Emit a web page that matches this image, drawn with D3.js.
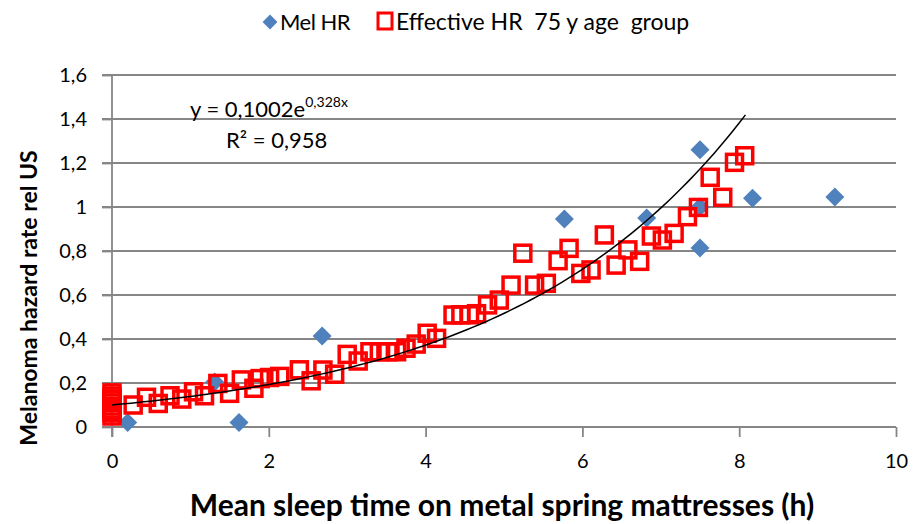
<!DOCTYPE html>
<html>
<head>
<meta charset="utf-8">
<script src="https://cdn.jsdelivr.net/npm/d3@7"></script>
<style>
  body { margin: 0; background: #fff; }
  svg { font-family: Lato, "Open Sans", sans-serif; }
</style>
</head>
<body>
<div id="chart"></div>
<script>
// Mel HR (blue diamonds)
var melX = [0.2, 1.31, 1.62, 2.68, 5.77, 6.82, 7.5, 7.5, 7.5, 8.17, 9.22]
var melY = [0.02, 0.205, 0.02, 0.414, 0.945, 0.95, 1.26, 1.0, 0.814, 1.04, 1.045]

// Effective HR 75 y age group (red squares)
var effX = [0, 0, 0, 0, 0, 0, 0, 0,
  0.27, 0.44, 0.59, 0.74, 0.89, 1.04, 1.18, 1.35, 1.5, 1.65, 1.81, 1.89, 2.01, 2.14,
  2.39, 2.54, 2.69, 2.84, 3.0, 3.14, 3.29, 3.41, 3.52, 3.63, 3.75, 3.88, 4.02, 4.14,
  4.35, 4.45, 4.56, 4.65, 4.79, 4.94, 5.09, 5.24, 5.39, 5.54, 5.69, 5.83, 5.98, 6.11,
  6.28, 6.43, 6.58, 6.73, 6.88, 7.02, 7.17, 7.34, 7.48, 7.63, 7.79, 7.94, 8.07]
var effY = [0.05, 0.065, 0.08, 0.095, 0.11, 0.125, 0.14, 0.155,
  0.1, 0.135, 0.107, 0.142, 0.127, 0.16, 0.142, 0.198, 0.153, 0.214, 0.176, 0.22, 0.225, 0.23,
  0.26, 0.21, 0.259, 0.24, 0.33, 0.3, 0.342, 0.342, 0.342, 0.342, 0.358, 0.377, 0.426, 0.403,
  0.509, 0.51, 0.51, 0.515, 0.555, 0.577, 0.645, 0.79, 0.645, 0.653, 0.756, 0.812, 0.698, 0.714,
  0.873, 0.736, 0.805, 0.753, 0.868, 0.85, 0.88, 0.956, 0.998, 1.135, 1.044, 1.203, 1.233]

// exponential trendline y = a * e^(b x)
var trendA = 0.1002
var trendB = 0.328
var trendRange = [0, 8.08]

var xTicks = [0, 2, 4, 6, 8, 10]
var yTicks = [0, 0.2, 0.4, 0.6, 0.8, 1, 1.2, 1.4, 1.6]

var width = 913
var height = 524

var svg = d3.select("#chart")
  .append("svg")
  .attr("width", width)
  .attr("height", height)

var x = d3.scaleLinear().domain([0, 10]).range([112, 896])
var y = d3.scaleLinear().domain([0, 1.6]).range([427, 75])

var comma = function(v) { return String(+v.toFixed(2)).replace(".", ",") }

// gridlines
svg.append("g")
  .selectAll("line")
  .data(yTicks)
  .enter().append("line")
    .attr("x1", 102)
    .attr("x2", x(10))
    .attr("y1", d => y(d))
    .attr("y2", d => y(d))
    .attr("stroke", "#868686")
    .attr("stroke-width", 1.8)

// y axis
var yAxis = svg.append("g")
  .attr("transform", "translate(" + x(0) + ",0)")
  .call(d3.axisLeft(y).tickValues(yTicks).tickFormat(comma).tickSize(10).tickPadding(15))
yAxis.select(".domain").remove()
yAxis.append("line")
  .attr("x1", 0).attr("x2", 0)
  .attr("y1", y(1.6)).attr("y2", y(0) + 10)
  .attr("stroke", "#868686").attr("stroke-width", 1.8)

// x axis
var xAxis = svg.append("g")
  .attr("transform", "translate(0," + y(0) + ")")
  .call(d3.axisBottom(x).tickValues(xTicks).tickFormat(comma).tickSize(10).tickPadding(17))
xAxis.select(".domain").attr("stroke", "#868686").attr("stroke-width", 1.8)
  .attr("d", "M" + x(0) + ",0H" + x(10))

svg.selectAll(".tick line").attr("stroke", "#868686").attr("stroke-width", 1.8)
svg.selectAll(".tick text")
  .attr("fill", "#000")
  .style("font-size", "20px")
  .style("font-family", "Lato, sans-serif")

// blue diamonds
svg.append("g")
  .selectAll("path")
  .data(melX)
  .enter().append("path")
    .attr("d", d3.symbol().type(d3.symbolSquare).size(180))
    .attr("transform", (d, i) => "translate(" + x(d) + "," + y(melY[i]) + ") rotate(45)")
    .attr("fill", "#4f81bd")

// red squares
svg.append("g")
  .selectAll("rect")
  .data(effX)
  .enter().append("rect")
    .attr("x", d => x(d) - 8)
    .attr("y", (d, i) => y(effY[i]) - 8)
    .attr("width", 16)
    .attr("height", 16)
    .attr("fill", "none")
    .attr("stroke", "#ff0000")
    .attr("stroke-width", 3.5)

// trendline
var trendPts = d3.range(0, 101).map(i => {
  var t = trendRange[0] + (trendRange[1] - trendRange[0]) * i / 100
  return [t, trendA * Math.exp(trendB * t)]
})
svg.append("path")
  .datum(trendPts)
  .attr("d", d3.line().x(d => x(d[0])).y(d => y(d[1])))
  .attr("fill", "none")
  .attr("stroke", "#000")
  .attr("stroke-width", 1.5)

// equation
var eq = svg.append("text")
  .attr("x", 190)
  .attr("y", 117)
  .style("font-size", "22px")
eq.append("tspan").text("y = 0,1002e")
eq.append("tspan").attr("dy", -10).style("font-size", "14px").text("0,328x")
svg.append("text")
  .attr("x", 226)
  .attr("y", 148)
  .style("font-size", "22px")
  .text("R² = 0,958")

// legend
svg.append("path")
  .attr("d", d3.symbol().type(d3.symbolSquare).size(110))
  .attr("transform", "translate(270,22) rotate(45)")
  .attr("fill", "#4f81bd")
svg.append("text")
  .attr("x", 280).attr("y", 30)
  .style("font-size", "22px")
  .style("letter-spacing", "-0.5px")
  .text("Mel HR")
svg.append("rect")
  .attr("x", 378).attr("y", 13)
  .attr("width", 14).attr("height", 16)
  .attr("fill", "none")
  .attr("stroke", "#ff0000")
  .attr("stroke-width", 3)
svg.append("text")
  .attr("x", 396).attr("y", 30)
  .style("font-size", "23px")
  .attr("xml:space", "preserve")
  .text("Effective HR  75 y age  group")

// axis titles
svg.append("text")
  .attr("x", 502).attr("y", 516)
  .attr("text-anchor", "middle")
  .style("font-size", "30px")
  .style("font-weight", "bold")
  .text("Mean sleep time on metal spring mattresses (h)")
svg.append("text")
  .attr("transform", "translate(37,298) rotate(-90)")
  .attr("text-anchor", "middle")
  .style("font-size", "23px")
  .style("font-weight", "bold")
  .text("Melanoma hazard  rate rel US")
</script>
</body>
</html>
